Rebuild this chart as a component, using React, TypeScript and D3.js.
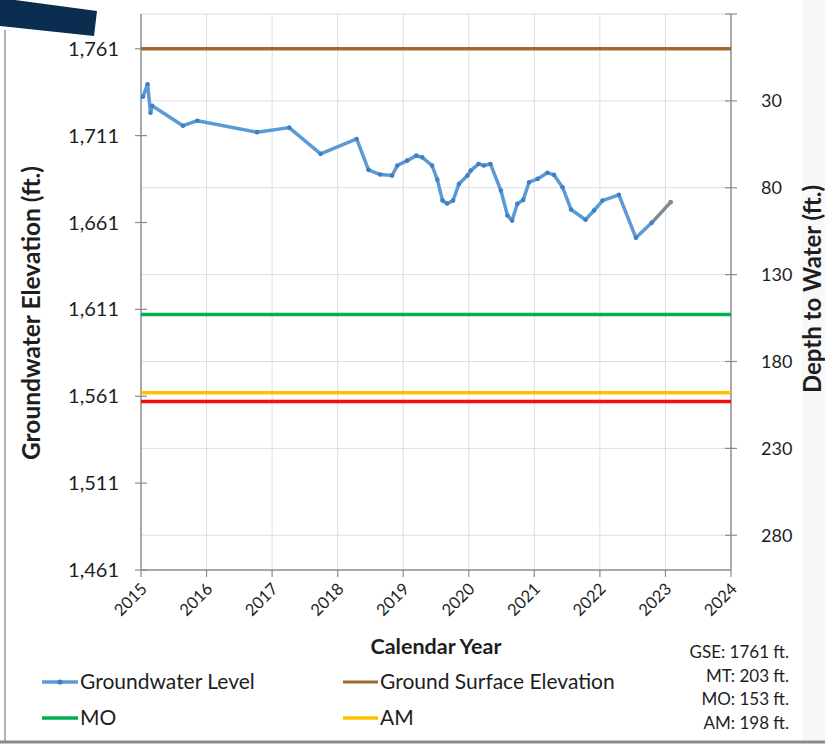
import React from "react";
import * as d3 from "d3";

// Groundwater level measurements (decimal year, elevation in ft.)
const obsYears = [
  2015.03, 2015.1, 2015.145, 2015.17, 2015.64, 2015.86, 2016.77, 2017.26, 2017.74, 2018.29,
  2018.47, 2018.65, 2018.83, 2018.91, 2019.06, 2019.2, 2019.29, 2019.44, 2019.52, 2019.6,
  2019.67, 2019.76, 2019.85, 2019.98, 2020.03, 2020.15, 2020.23, 2020.33, 2020.49, 2020.59,
  2020.66, 2020.74, 2020.83, 2020.92, 2021.05, 2021.2, 2021.3, 2021.43, 2021.56, 2021.78,
  2021.91, 2022.04, 2022.29, 2022.55, 2022.79, 2023.08,
];
const obsLevels = [
  1733.4, 1740.6, 1724.2, 1728.2, 1716.7, 1719.6, 1713.0, 1715.6, 1700.5, 1709.1,
  1691.3, 1688.6, 1688.0, 1693.8, 1696.6, 1699.5, 1698.5, 1693.8, 1685.7, 1673.6,
  1671.9, 1673.6, 1683.2, 1688.0, 1690.9, 1694.7, 1693.8, 1694.7, 1679.4, 1665.0,
  1662.1, 1671.7, 1674.0, 1684.2, 1686.1, 1689.6, 1688.4, 1681.3, 1668.5, 1662.6,
  1667.9, 1673.6, 1676.9, 1652.2, 1660.8, 1672.7,
];

// Well thresholds
const GSE = 1761; // ground surface elevation (ft.)
const MT_DEPTH = 203;
const MO_DEPTH = 153;
const AM_DEPTH = 198;

const yearTicks = [2015, 2016, 2017, 2018, 2019, 2020, 2021, 2022, 2023, 2024];
const elevTicks = [1761, 1711, 1661, 1611, 1561, 1511, 1461];
const depthTicks = [-20, 30, 80, 130, 180, 230, 280];
const depthLabels = [30, 80, 130, 180, 230, 280];

const noteLines = [
  `GSE: ${GSE} ft.`,
  `MT: ${MT_DEPTH} ft.`,
  `MO: ${MO_DEPTH} ft.`,
  `AM: ${AM_DEPTH} ft.`,
];

const FONT = "Lato, 'Open Sans', sans-serif";
const C_BLUE = "#5B9BD5";
const C_MARK = "#3f7fc4";
const C_GREY_SEG = "#7d8a96";
const C_BROWN = "#9E6A2E";
const C_GREEN = "#00B050";
const C_AMBER = "#FFC000";
const C_RED = "#F01010";
const C_AXIS = "#8c8c8c";
const C_GRID = "#dedede";
const C_TEXT = "#1e1e1e";

export default function App() {
  const left = 141;
  const right = 731;
  const top = 14;
  const bottom = 570;

  const x = d3.scaleLinear().domain([2015, 2024]).range([left, right]);
  const y = d3.scaleLinear().domain([1461, 1781]).range([bottom, top]);
  // depth to water axis shares the elevation scale, inverted around GSE
  const yDepth = d3.scaleLinear().domain([GSE - 1461, GSE - 1781]).range([bottom, top]);

  const pts = obsYears.map((yr, i) => [yr, obsLevels[i]] as [number, number]);
  const line = d3
    .line<[number, number]>()
    .x((d) => x(d[0]))
    .y((d) => y(d[1]));
  const mainPts = pts.slice(0, pts.length - 1);
  const lastSeg = pts.slice(pts.length - 2);

  const hLine = (elev: number, color: string, key: string) => (
    <line
      key={key}
      x1={left}
      x2={right}
      y1={y(elev)}
      y2={y(elev)}
      stroke={color}
      strokeWidth={3.5}
    />
  );

  return (
    <svg
      width={825}
      height={745}
      style={{ position: "absolute", left: 0, top: 0, background: "#fff" }}
      fontFamily={FONT}
    >
      <rect width={825} height={745} fill="#fff" />
      {/* page frame and corner accent */}
      <rect x={802} y={0} width={23} height={740} fill="#f8f8f8" />
      <polygon points="0,-2 97,11 94,36 0,26" fill="#0B2D50" />
      <line x1={5} x2={5} y1={30} y2={742} stroke="#9a9a9a" strokeWidth={1.5} />
      <line x1={0} x2={825} y1={742} y2={742} stroke="#8a8a8a" strokeWidth={3} />

      {/* gridlines */}
      {depthTicks.map((t) => (
        <line
          key={"hg" + t}
          x1={left}
          x2={right}
          y1={yDepth(t)}
          y2={yDepth(t)}
          stroke={C_GRID}
          strokeWidth={1}
        />
      ))}
      {yearTicks.slice(1, -1).map((t) => (
        <line
          key={"vg" + t}
          x1={x(t)}
          x2={x(t)}
          y1={top}
          y2={bottom}
          stroke={C_GRID}
          strokeWidth={1}
        />
      ))}

      {/* axes */}
      <line x1={left} x2={left} y1={top} y2={bottom} stroke={C_AXIS} strokeWidth={1.5} />
      <line x1={right} x2={right} y1={top} y2={bottom} stroke={C_AXIS} strokeWidth={1.5} />
      <line x1={left} x2={right} y1={bottom} y2={bottom} stroke={C_AXIS} strokeWidth={1.5} />

      {elevTicks.map((t) => (
        <g key={"lt" + t}>
          <line x1={left - 6} x2={left + 6} y1={y(t)} y2={y(t)} stroke={C_AXIS} strokeWidth={1.2} />
          <text
            x={119}
            y={y(t)}
            dy="0.35em"
            textAnchor="end"
            fontSize={20}
            fill={C_TEXT}
          >
            {d3.format(",")(t)}
          </text>
        </g>
      ))}
      {depthTicks.map((t) => (
        <line
          key={"rt" + t}
          x1={right - 6}
          x2={right + 6}
          y1={yDepth(t)}
          y2={yDepth(t)}
          stroke={C_AXIS}
          strokeWidth={1.2}
        />
      ))}
      {depthLabels.map((t) => (
        <text
          key={"rl" + t}
          x={761}
          y={yDepth(t)}
          dy="0.35em"
          textAnchor="start"
          fontSize={18}
          fill={C_TEXT}
        >
          {t}
        </text>
      ))}
      {yearTicks.map((t) => (
        <g key={"xt" + t}>
          <line x1={x(t)} x2={x(t)} y1={bottom} y2={bottom + 7} stroke={C_AXIS} strokeWidth={1.2} />
          <text
            transform={`translate(${x(t) + 7},${bottom + 20}) rotate(-45)`}
            textAnchor="end"
            fontSize={16.5}
            fill={C_TEXT}
          >
            {t}
          </text>
        </g>
      ))}

      {/* axis titles */}
      <text
        transform={`translate(40,${313}) rotate(-90)`}
        textAnchor="middle"
        fontSize={24.5}
        fontWeight="bold"
        fill={C_TEXT}
      >
        Groundwater Elevation (ft.)
      </text>
      <text
        transform={`translate(821,${289}) rotate(-90)`}
        textAnchor="middle"
        fontSize={24}
        fontWeight="bold"
        fill={C_TEXT}
      >
        Depth to Water (ft.)
      </text>
      <text x={436} y={654} textAnchor="middle" fontSize={21.5} fontWeight="bold" fill={C_TEXT}>
        Calendar Year
      </text>

      {/* threshold lines */}
      {hLine(GSE, C_BROWN, "gse")}
      {hLine(GSE - MO_DEPTH, C_GREEN, "mo")}
      {hLine(GSE - AM_DEPTH, C_AMBER, "am")}
      {hLine(GSE - MT_DEPTH, C_RED, "mt")}

      {/* groundwater series */}
      <path d={line(mainPts) ?? ""} fill="none" stroke={C_BLUE} strokeWidth={3.5} strokeLinejoin="round" />
      <path d={line(lastSeg) ?? ""} fill="none" stroke={C_GREY_SEG} strokeWidth={3.5} strokeLinecap="round" />
      {pts.map((p, i) => (
        <circle
          key={"pt" + i}
          cx={x(p[0])}
          cy={y(p[1])}
          r={2.3}
          fill={i === pts.length - 1 ? C_GREY_SEG : C_MARK}
        />
      ))}

      {/* legend */}
      <g fontSize={21} fill={C_TEXT}>
        <line x1={42} x2={78} y1={682} y2={682} stroke={C_BLUE} strokeWidth={3.5} />
        <circle cx={60} cy={682} r={2.6} fill={C_MARK} />
        <text x={80} y={682} dy="0.35em">Groundwater Level</text>
        <line x1={343} x2={378} y1={682} y2={682} stroke={C_BROWN} strokeWidth={3} />
        <text x={380} y={682} dy="0.35em">Ground Surface Elevation</text>
        <line x1={42} x2={78} y1={718} y2={718} stroke={C_GREEN} strokeWidth={3.5} />
        <text x={80} y={718} dy="0.35em">MO</text>
        <line x1={343} x2={378} y1={718} y2={718} stroke={C_AMBER} strokeWidth={3.5} />
        <text x={380} y={718} dy="0.35em">AM</text>
      </g>

      {/* threshold notes */}
      {noteLines.map((s, i) => (
        <text key={"n" + i} x={789} y={658 + i * 23.5} textAnchor="end" fontSize={17} fill={C_TEXT}>
          {s}
        </text>
      ))}
    </svg>
  );
}
